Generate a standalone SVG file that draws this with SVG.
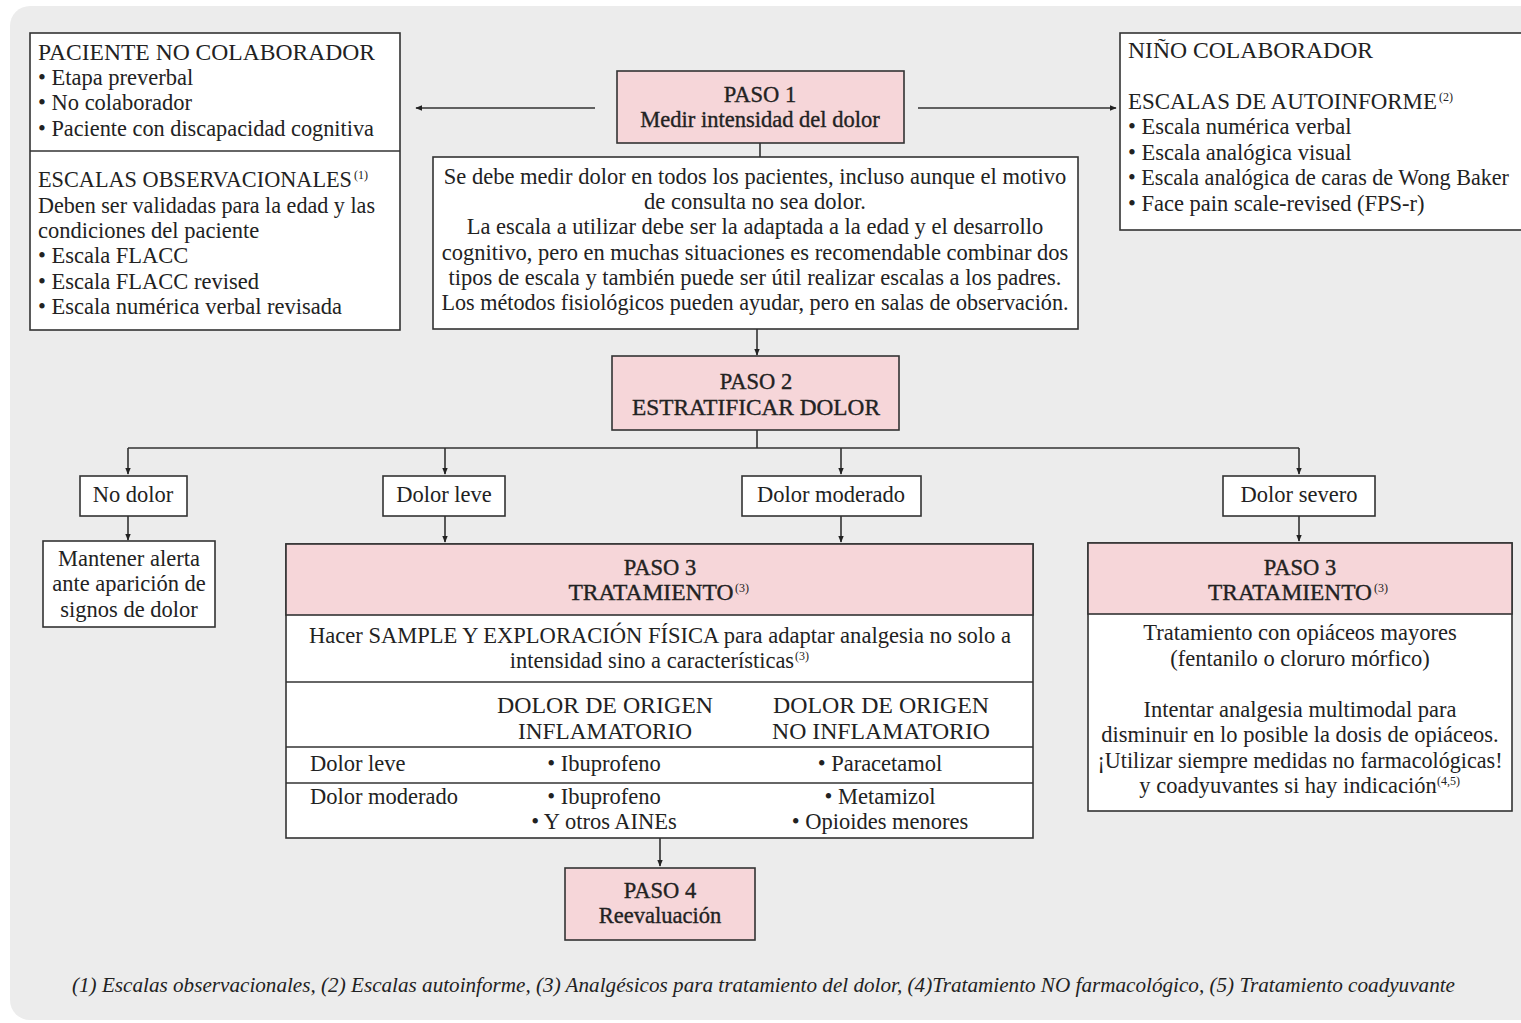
<svg xmlns="http://www.w3.org/2000/svg" width="1521" height="1023" viewBox="0 0 1521 1023">
<defs>
<marker id="ah" viewBox="0 0 10 10" refX="9" refY="5" markerWidth="7" markerHeight="7" markerUnits="userSpaceOnUse" orient="auto">
<path d="M0,1 L10,5 L0,9 z" fill="#222"/>
</marker>
<style>
text{font-family:"Liberation Serif","Times New Roman",serif;fill:#222;font-size:22.5px}
.c{text-anchor:middle}
.h{stroke:#222;stroke-width:0.35px}
.box{fill:#fff;stroke:#333;stroke-width:1.6}
.pink{fill:#f6d6d9;stroke:#333;stroke-width:1.6}
.ln{fill:none;stroke:#333;stroke-width:1.6}
.ar{fill:none;stroke:#333;stroke-width:1.6;marker-end:url(#ah)}
.sup{font-size:12px}
.foot{font-style:italic;font-size:21px}
</style>
</defs>
<rect x="0" y="0" width="1521" height="1023" fill="#fff"/>
<rect x="10" y="6" width="1540" height="1014" rx="20" fill="#ececec"/>

<g id="connectors">
<path class="ar" d="M595,108 H416"/>
<path class="ar" d="M918,108 H1116"/>
<path class="ln" d="M760,143 V157"/>
<path class="ar" d="M757,329 V355"/>
<path class="ln" d="M757,430 V448 M128,448 H1299"/>
<path class="ar" d="M128,448 V474"/>
<path class="ar" d="M445,448 V474"/>
<path class="ar" d="M841,448 V474"/>
<path class="ar" d="M1299,448 V474"/>
<path class="ar" d="M128,516 V540"/>
<path class="ar" d="M445,516 V542"/>
<path class="ar" d="M841,516 V542"/>
<path class="ar" d="M1299,516 V541"/>
<path class="ar" d="M660,838 V866"/>
</g>

<g id="no-colaborador">
<rect class="box" x="30" y="33" width="370" height="297"/>
<line class="ln" x1="30" y1="151" x2="400" y2="151"/>
<text x="38" y="60" textLength="337" lengthAdjust="spacingAndGlyphs">PACIENTE NO COLABORADOR</text>
<text x="38" y="85">• Etapa preverbal</text>
<text x="38" y="110">• No colaborador</text>
<text x="38" y="136" textLength="336" lengthAdjust="spacingAndGlyphs">• Paciente con discapacidad cognitiva</text>
<text x="38" y="187" textLength="314" lengthAdjust="spacingAndGlyphs">ESCALAS OBSERVACIONALES</text>
<text class="sup" x="354" y="179">(1)</text>
<text x="38" y="213" textLength="337" lengthAdjust="spacingAndGlyphs">Deben ser validadas para la edad y las</text>
<text x="38" y="238">condiciones del paciente</text>
<text x="38" y="263">• Escala FLACC</text>
<text x="38" y="289">• Escala FLACC revised</text>
<text x="38" y="314">• Escala numérica verbal revisada</text>
</g>

<g id="paso1">
<rect class="pink" x="617" y="71" width="287" height="72"/>
<text class="c h" x="760" y="102">PASO 1</text>
<text class="c h" x="760" y="127">Medir intensidad del dolor</text>
</g>

<g id="medir-texto">
<rect class="box" x="433" y="157" width="645" height="172"/>
<text class="c" x="755" y="184">Se debe medir dolor en todos los pacientes, incluso aunque el motivo</text>
<text class="c" x="755" y="209">de consulta no sea dolor.</text>
<text class="c" x="755" y="234">La escala a utilizar debe ser la adaptada a la edad y el desarrollo</text>
<text class="c" x="755" y="260">cognitivo, pero en muchas situaciones es recomendable combinar dos</text>
<text class="c" x="755" y="285">tipos de escala y también puede ser útil realizar escalas a los padres.</text>
<text class="c" x="755" y="310" textLength="627" lengthAdjust="spacingAndGlyphs">Los métodos fisiológicos pueden ayudar, pero en salas de observación.</text>
</g>

<g id="nino-colaborador">
<rect class="box" x="1120" y="33" width="410" height="197"/>
<text x="1128" y="58" textLength="245" lengthAdjust="spacingAndGlyphs">NIÑO COLABORADOR</text>
<text x="1128" y="109" textLength="309" lengthAdjust="spacingAndGlyphs">ESCALAS DE AUTOINFORME</text>
<text class="sup" x="1439" y="101">(2)</text>
<text x="1128" y="134">• Escala numérica verbal</text>
<text x="1128" y="160">• Escala analógica visual</text>
<text x="1128" y="185" textLength="381" lengthAdjust="spacingAndGlyphs">• Escala analógica de caras de Wong Baker</text>
<text x="1128" y="211">• Face pain scale-revised (FPS-r)</text>
</g>

<g id="paso2">
<rect class="pink" x="612" y="356" width="287" height="74"/>
<text class="c h" x="756" y="389">PASO 2</text>
<text class="c h" x="756" y="415" textLength="248" lengthAdjust="spacingAndGlyphs">ESTRATIFICAR DOLOR</text>
</g>

<g id="no-dolor">
<rect class="box" x="80" y="476" width="107" height="40"/>
<text class="c" x="133" y="502">No dolor</text>
</g>
<g id="dolor-leve">
<rect class="box" x="383" y="476" width="122" height="40"/>
<text class="c" x="444" y="502">Dolor leve</text>
</g>
<g id="dolor-moderado">
<rect class="box" x="742" y="476" width="179" height="40"/>
<text class="c" x="831" y="502">Dolor moderado</text>
</g>
<g id="dolor-severo">
<rect class="box" x="1223" y="476" width="152" height="40"/>
<text class="c" x="1299" y="502">Dolor severo</text>
</g>

<g id="mantener-alerta">
<rect class="box" x="43" y="541" width="172" height="86"/>
<text class="c" x="129" y="566">Mantener alerta</text>
<text class="c" x="129" y="591">ante aparición de</text>
<text class="c" x="129" y="617">signos de dolor</text>
</g>

<g id="paso3-leve-moderado">
<rect class="box" x="286" y="544" width="747" height="294"/>
<rect class="pink" x="286" y="544" width="747" height="71"/>
<text class="c h" x="660" y="575">PASO 3</text>
<text class="c h" x="651" y="600" textLength="165" lengthAdjust="spacingAndGlyphs">TRATAMIENTO</text>
<text class="sup" x="735" y="592">(3)</text>
<text class="c" x="660" y="643" textLength="702" lengthAdjust="spacingAndGlyphs">Hacer SAMPLE Y EXPLORACIÓN FÍSICA para adaptar analgesia no solo a</text>
<text class="c" x="652" y="668">intensidad sino a características</text>
<text class="sup" x="795" y="660">(3)</text>
<line class="ln" x1="286" y1="682" x2="1033" y2="682"/>
<text class="c" x="605" y="713" textLength="216" lengthAdjust="spacingAndGlyphs">DOLOR DE ORIGEN</text>
<text class="c" x="605" y="739" textLength="174" lengthAdjust="spacingAndGlyphs">INFLAMATORIO</text>
<text class="c" x="881" y="713" textLength="216" lengthAdjust="spacingAndGlyphs">DOLOR DE ORIGEN</text>
<text class="c" x="881" y="739" textLength="218" lengthAdjust="spacingAndGlyphs">NO INFLAMATORIO</text>
<line class="ln" x1="286" y1="747" x2="1033" y2="747"/>
<text x="310" y="771">Dolor leve</text>
<text class="c" x="604" y="771">• Ibuprofeno</text>
<text class="c" x="880" y="771">• Paracetamol</text>
<line class="ln" x1="286" y1="783" x2="1033" y2="783"/>
<text x="310" y="804">Dolor moderado</text>
<text class="c" x="604" y="804">• Ibuprofeno</text>
<text class="c" x="604" y="829">• Y otros AINEs</text>
<text class="c" x="880" y="804">• Metamizol</text>
<text class="c" x="880" y="829">• Opioides menores</text>
</g>

<g id="paso3-severo">
<rect class="box" x="1088" y="543" width="424" height="268"/>
<rect class="pink" x="1088" y="543" width="424" height="71"/>
<text class="c h" x="1300" y="575">PASO 3</text>
<text class="c h" x="1290" y="600" textLength="164" lengthAdjust="spacingAndGlyphs">TRATAMIENTO</text>
<text class="sup" x="1374" y="592">(3)</text>
<text class="c" x="1300" y="640">Tratamiento con opiáceos mayores</text>
<text class="c" x="1300" y="666">(fentanilo o cloruro mórfico)</text>
<text class="c" x="1300" y="717">Intentar analgesia multimodal para</text>
<text class="c" x="1300" y="742">disminuir en lo posible la dosis de opiáceos.</text>
<text class="c" x="1300" y="768" textLength="405" lengthAdjust="spacingAndGlyphs">¡Utilizar siempre medidas no farmacológicas!</text>
<text class="c" x="1288" y="793">y coadyuvantes si hay indicación</text>
<text class="sup" x="1437" y="785">(4,5)</text>
</g>

<g id="paso4">
<rect class="pink" x="565" y="868" width="190" height="72"/>
<text class="c h" x="660" y="898">PASO 4</text>
<text class="c h" x="660" y="923">Reevaluación</text>
</g>

<text class="foot" x="72" y="992" textLength="1383" lengthAdjust="spacingAndGlyphs">(1) Escalas observacionales, (2) Escalas autoinforme, (3) Analgésicos para tratamiento del dolor, (4)Tratamiento NO farmacológico, (5) Tratamiento coadyuvante</text>
</svg>
